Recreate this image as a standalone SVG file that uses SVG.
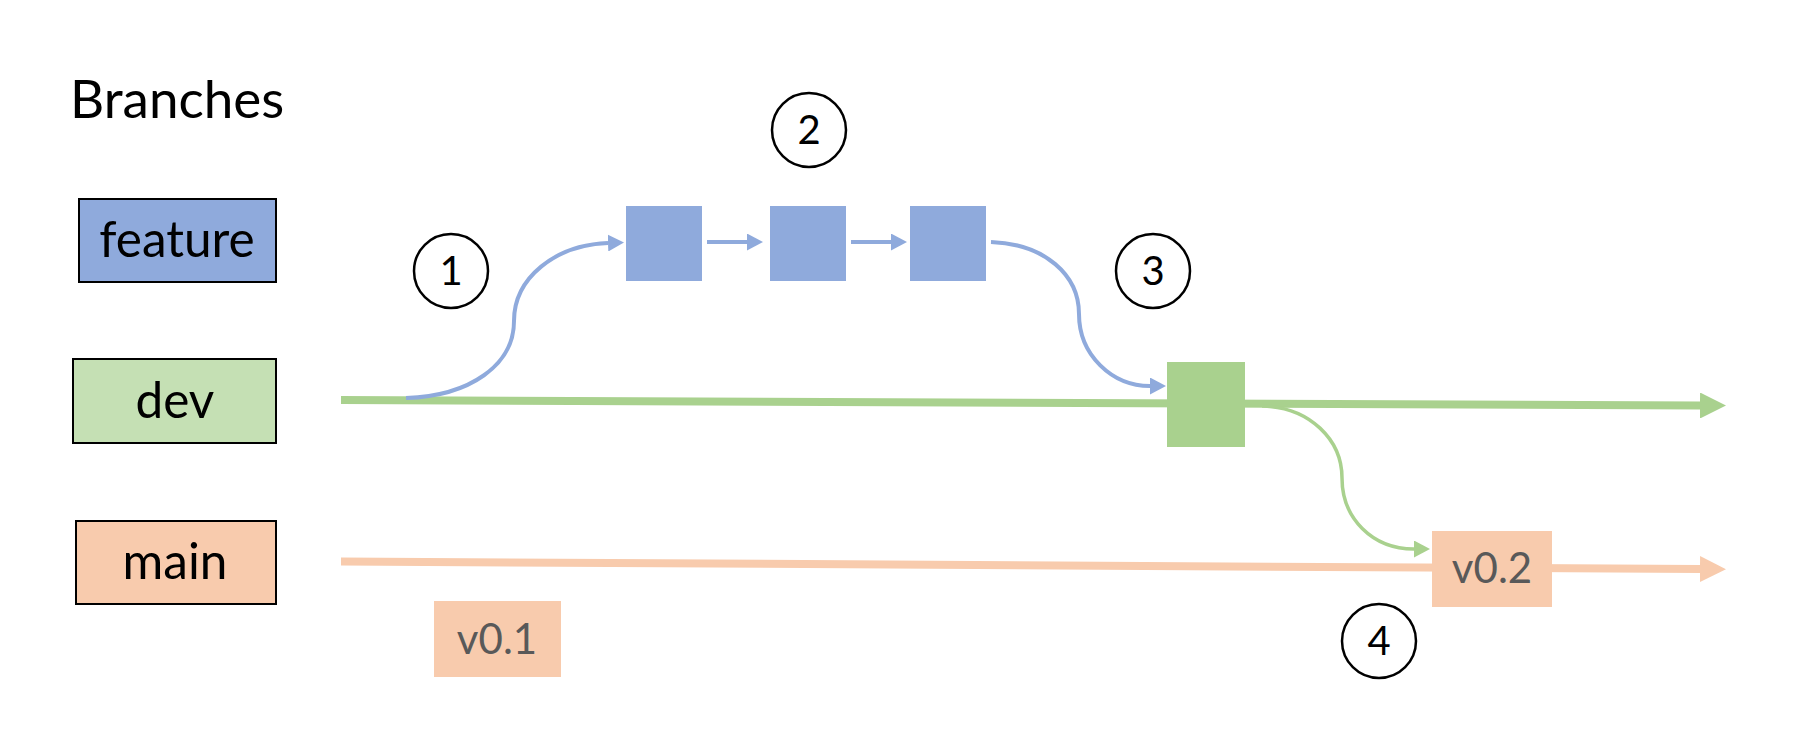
<svg xmlns="http://www.w3.org/2000/svg" width="1793" height="743" viewBox="0 0 1793 743">
<style>
.lbl{font-family:Lato,"Open Sans","Liberation Sans",sans-serif;fill:#000;text-anchor:middle;font-size:49.5px}
.tag{font-family:Lato,"Open Sans","Liberation Sans",sans-serif;fill:#595959;text-anchor:middle;font-size:42px}
.num{font-family:Lato,"Open Sans","Liberation Sans",sans-serif;fill:#000;text-anchor:middle;font-size:40px}
.circ{fill:#fff;stroke:#000;stroke-width:2.5}
.bbox{stroke:#000;stroke-width:2}
.blue{fill:none;stroke:#8FAADC;stroke-width:4}
.greenc{fill:none;stroke:#A9D18E;stroke-width:3.5}
</style>
<defs>
<marker id="aGreenBig" markerUnits="userSpaceOnUse" markerWidth="26" markerHeight="26" refX="0" refY="13" orient="auto"><path d="M0,0 L26,13 L0,26 z" fill="#A9D18E"/></marker>
<marker id="aPeachBig" markerUnits="userSpaceOnUse" markerWidth="26" markerHeight="26" refX="0" refY="13" orient="auto"><path d="M0,0 L26,13 L0,26 z" fill="#F8CBAD"/></marker>
<marker id="aBlue" markerUnits="userSpaceOnUse" markerWidth="16" markerHeight="17" refX="0" refY="8.5" orient="auto"><path d="M0,0 L16,8.5 L0,17 z" fill="#8FAADC"/></marker>
<marker id="aGreen" markerUnits="userSpaceOnUse" markerWidth="16" markerHeight="17" refX="0" refY="8.5" orient="auto"><path d="M0,0 L16,8.5 L0,17 z" fill="#A9D18E"/></marker>
</defs>
<rect width="1793" height="743" fill="#fff"/>
<text x="70" y="118" font-family="Lato,'Open Sans','Liberation Sans',sans-serif" font-size="53" fill="#000">Branches</text>
<g id="connectors">
<line x1="341" y1="400" x2="1700" y2="405.5" stroke="#A9D18E" stroke-width="8" marker-end="url(#aGreenBig)"/>
<line x1="341" y1="561.5" x2="1700" y2="569" stroke="#F8CBAD" stroke-width="8" marker-end="url(#aPeachBig)"/>
<path class="blue" d="M406,398 C470,396 514,365 514,321 C514,278 555,245 608,243" marker-end="url(#aBlue)"/>
<line class="blue" x1="707" y1="242" x2="747" y2="242" marker-end="url(#aBlue)"/>
<line class="blue" x1="851" y1="242" x2="891" y2="242" marker-end="url(#aBlue)"/>
<path class="blue" d="M991,242 C1045,244 1079,275 1079,314 C1079,355 1112,386 1150,386" marker-end="url(#aBlue)"/>
<path class="greenc" d="M1262,406 C1310,407 1342,440 1342,478 C1342,518 1372,549 1414,549" marker-end="url(#aGreen)"/>
</g>
<g id="branch-feature"><rect class="bbox" x="79" y="199" width="197" height="83" fill="#8FAADC"/><text class="lbl" x="177" y="257">feature</text></g>
<g id="branch-dev"><rect class="bbox" x="73" y="359" width="203" height="84" fill="#C5E0B4"/><text class="lbl" x="175" y="418">dev</text></g>
<g id="branch-main"><rect class="bbox" x="76" y="521" width="200" height="83" fill="#F8CBAD"/><text class="lbl" x="175" y="579">main</text></g>
<g id="commit-f1"><rect x="626" y="206" width="76" height="75" fill="#8FAADC"/></g>
<g id="commit-f2"><rect x="770" y="206" width="76" height="75" fill="#8FAADC"/></g>
<g id="commit-f3"><rect x="910" y="206" width="76" height="75" fill="#8FAADC"/></g>
<g id="commit-dev"><rect x="1167" y="362" width="78" height="85" fill="#A9D18E"/></g>
<g id="tag-v01"><rect x="434" y="601" width="127" height="76" fill="#F8CBAD"/><text class="tag" x="497" y="654">v0.1</text></g>
<g id="tag-v02"><rect x="1432" y="531" width="120" height="76" fill="#F8CBAD"/><text class="tag" x="1492" y="583">v0.2</text></g>
<g id="step1"><circle class="circ" cx="451" cy="271" r="37"/><text class="num" x="451" y="285">1</text></g>
<g id="step2"><circle class="circ" cx="809" cy="130" r="37"/><text class="num" x="809" y="144">2</text></g>
<g id="step3"><circle class="circ" cx="1153" cy="271" r="37"/><text class="num" x="1153" y="285">3</text></g>
<g id="step4"><circle class="circ" cx="1379" cy="641" r="37"/><text class="num" x="1379" y="655">4</text></g>
</svg>
